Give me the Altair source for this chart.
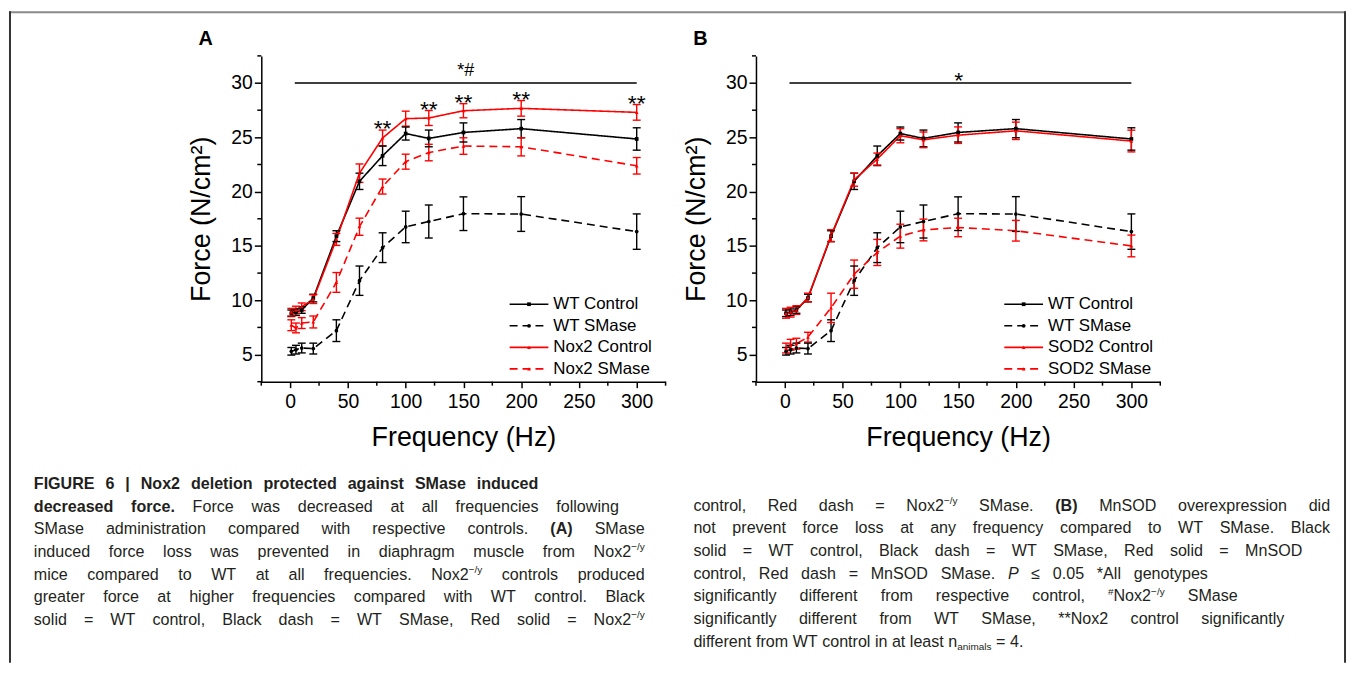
import altair as alt
import pandas as pd

# ---------------- data ----------------
FREQ = [1, 5, 10, 20, 40, 60, 80, 100, 120, 150, 200, 300]

WT_CTRL = [8.8, 8.9, 9.1, 10.2, 15.9, 20.95, 23.3, 25.35, 24.9, 25.45, 25.8, 24.85]
WT_CTRL_ERR = [0.3, 0.3, 0.3, 0.35, 0.5, 0.75, 0.9, 0.6, 0.77, 0.88, 0.84, 1.03]
WT_SMASE = [5.3, 5.45, 5.6, 5.55, 7.2, 11.8, 14.84, 16.75, 17.25, 17.97, 17.94, 16.32]
WT_SMASE_ERR = [0.35, 0.4, 0.45, 0.5, 1.0, 1.35, 1.37, 1.45, 1.52, 1.55, 1.6, 1.63]
NOX2_CTRL = [8.9, 9.1, 9.4, 10.1, 15.6, 21.7, 24.94, 26.72, 26.78, 27.45, 27.67, 27.3]
NOX2_CTRL_ERR = [0.35, 0.35, 0.35, 0.4, 0.55, 0.85, 0.73, 0.69, 0.69, 0.65, 0.72, 0.72]
NOX2_SMASE = [7.7, 7.45, 7.9, 8.0, 11.64, 16.77, 20.47, 22.76, 23.6, 24.2, 24.13, 22.38]
NOX2_SMASE_ERR = [0.5, 0.45, 0.5, 0.55, 0.91, 0.79, 0.69, 0.69, 0.76, 0.76, 0.84, 0.76]
SOD2_CTRL = [8.8, 8.9, 9.1, 10.25, 15.95, 21.1, 23.0, 25.15, 24.77, 25.2, 25.6, 24.66]
SOD2_CTRL_ERR = [0.45, 0.45, 0.4, 0.4, 0.55, 0.6, 0.55, 0.65, 0.72, 0.76, 0.8, 1.0]
SOD2_SMASE = [5.6, 5.9, 6.0, 6.6, 9.3, 12.4, 14.4, 15.9, 16.47, 16.7, 16.4, 15.0]
SOD2_SMASE_ERR = [0.45, 0.5, 0.5, 0.45, 1.35, 1.3, 1.2, 1.1, 1.0, 0.85, 0.95, 1.0]

NAMES_A = ["WT Control", "WT SMase", "Nox2 Control", "Nox2 SMase"]
NAMES_B = ["WT Control", "WT SMase", "SOD2 Control", "SOD2 SMase"]
KEYS = ["k1", "k2", "k3", "k4"]

STAR_FREQ_A = [80, 120, 150, 200, 300]
STAR_Y_A = [26.3, 28.1, 28.7, 29.0, 28.6]
BAR_FROM, BAR_TO, BAR_Y = 4, 300, 30
SIG_A, SIG_FREQ_A = "*#", 152
SIG_B, SIG_FREQ_B = "*", 150.5

X_MAJOR = [0, 50, 100, 150, 200, 250, 300]
X_MINOR = [-25, 25, 75, 125, 175, 225, 275, 325]
Y_MAJOR = [5, 10, 15, 20, 25, 30]
Y_MINOR = [2.5, 7.5, 12.5, 17.5, 22.5, 27.5, 32.5]

LEFT_LINES = [
    ([("b", "FIGURE 6 | Nox2 deletion protected against SMase induced")], 541),
    ([("b", "decreased force."), ("n", " Force was decreased at all frequencies following")], 622),
    ([("n", "SMase administration compared with respective controls. "), ("b", "(A)"), ("n", " SMase")], 648),
    ([("n", "induced force loss was prevented in diaphragm muscle from Nox2"), ("sup", "\u2212/y")], 648),
    ([("n", "mice compared to WT at all frequencies. Nox2"), ("sup", "\u2212/y"), ("n", " controls produced")], 648),
    ([("n", "greater force at higher frequencies compared with WT control. Black")], 648),
    ([("n", "solid = WT control, Black dash = WT SMase, Red solid = Nox2"), ("sup", "\u2212/y")], 648),
]
RIGHT_LINES = [
    ([("n", "control, Red dash = Nox2"), ("sup", "\u2212/y"), ("n", " SMase. "), ("b", "(B)"),
      ("n", " MnSOD overexpression did")], 1338),
    ([("n", "not prevent force loss at any frequency compared to WT SMase. Black")], 1338),
    ([("n", "solid = WT control, Black dash = WT SMase, Red solid = MnSOD")], 1310),
    ([("n", "control, Red dash = MnSOD SMase. "), ("i", "P"), ("n", " \u2264 0.05 *All genotypes")], 1215),
    ([("n", "significantly different from respective control, "), ("sup", "#"), ("n", "Nox2"),
      ("sup", "\u2212/y"), ("n", " SMase")], 1245),
    ([("n", "significantly different from WT SMase, **Nox2 control significantly")], 1292),
    ([("n", "different from WT control in at least n"), ("sub", "animals"), ("n", " = 4.")], None),
]

# ---------------- styles / layout ----------------
FONT = "Liberation Sans, Arial, sans-serif"
CAP_FONT = "Liberation Sans, Arial, sans-serif"
COLORS = ["#000000", "#000000", "#ff0000", "#ff0000"]
DASHES = [[1, 0], [8, 5], [1, 0], [8, 5]]
SHAPES = ["square", "circle", "triangle-up", "triangle-up"]

W, H = 407, 328
A_ORIGIN = (262, 53)
B_ORIGIN = (760, 53)
SPACING = B_ORIGIN[0] - A_ORIGIN[0] - W

CAP_FS = 16.2
CAP_LINE = 22.8
LEFT_X0, LEFT_BASE0 = 33, 489
RIGHT_X0, RIGHT_BASE0 = 697, 511

LEG_X0, LEG_X1, LEG_TX, LEG_Y0, LEG_DY = 250, 289, 294, 250, 21.7

ONE = pd.DataFrame({"d": [0]})

# ---- approximate glyph widths (per 1000 em) for caption justification ----
REG = {}
for chars, w in [("ABEKPSVXY", 667), ("CDHNRUw", 722), ("FTZ", 611), ("GOQ", 778),
                 ("If t.,/:!", 278), ("Jckvsxyz", 500), ("Labdeghnopqu0123456789#", 556),
                 ("Mm", 833), ("W", 944), ("ijl", 222), ("r()-", 333), ("*", 389),
                 ("=\u2212+", 584), ("|", 260), ("\u2264", 549)]:
    for ch in chars:
        REG[ch] = w
BOLD = {}
for chars, w in [("ABCDHNRU", 722), ("EPS", 667), ("FTbdghnopqu", 611), ("GOw", 778),
                 ("Iil .,", 278), ("M", 833), ("W", 944), ("acesvxyzk0123456789#", 556),
                 ("m", 889), ("ft():", 333), ("r", 389), ("|", 280), ("=\u2212", 584)]:
    for ch in chars:
        BOLD[ch] = w


def run_w(style, text):
    table = BOLD if style == "b" else REG
    scale = 0.62 if style in ("sup", "sub") else 1.0
    return sum(table.get(ch, 556) for ch in text) / 1000.0 * CAP_FS * scale


def split_words(runs):
    words = [[]]
    for style, text in runs:
        parts = text.split(" ")
        for k, p in enumerate(parts):
            if k > 0:
                words.append([])
            if p:
                words[-1].append((style, p))
    return [w for w in words if w]


def build_caption():
    rows = []
    for x0, base0, lines in [(LEFT_X0, LEFT_BASE0, LEFT_LINES), (RIGHT_X0, RIGHT_BASE0, RIGHT_LINES)]:
        for i, (runs, target) in enumerate(lines):
            words = split_words(runs)
            widths = [sum(run_w(s, t) for s, t in w) for w in words]
            space = 0.278 * CAP_FS
            if target is not None and len(words) > 1:
                gap = max((target - x0 - sum(widths)) / (len(words) - 1), 0.2 * CAP_FS)
            else:
                gap = space
            x = x0
            y = base0 + i * CAP_LINE
            for w, ww in zip(words, widths):
                cx = x
                for s, t in w:
                    dy = {"sup": -0.4 * CAP_FS, "sub": 0.22 * CAP_FS}.get(s, 0.0)
                    rows.append(dict(x=cx - A_ORIGIN[0], y=y + dy - A_ORIGIN[1], text=t, style=s))
                    cx += run_w(s, t)
                x += ww + gap
    return pd.DataFrame(rows)


CAPTION = build_caption()


def cap_layer(style, size, weight="normal", fstyle="normal"):
    d = CAPTION[CAPTION["style"] == style]
    return alt.Chart(d).mark_text(
        align="left", baseline="alphabetic", font=CAP_FONT, fontSize=size,
        fontWeight=weight, fontStyle=fstyle, color="#231f20"
    ).encode(x=alt.X("x:Q", scale=None), y=alt.Y("y:Q", scale=None), text="text:N")


def panel(names, series, label, sig_text, sig_freq, sig_fs, sig_dy, stars, with_caption):
    rows = []
    for key, name, (vals, errs) in zip(KEYS, names, series):
        for f, v, e in zip(FREQ, vals, errs):
            rows.append(dict(key=key, name=name, freq=f, force=v, lo=v - e, hi=v + e))
    df = pd.DataFrame(rows)

    xscale = alt.Scale(domain=[-25, 325], nice=False, zero=False)
    yscale = alt.Scale(domain=[2.5, 32.5], nice=False, zero=False)
    color = alt.Color("key:N", scale=alt.Scale(domain=KEYS, range=COLORS), legend=None)
    dash = alt.StrokeDash("key:N", scale=alt.Scale(domain=KEYS, range=DASHES), legend=None)
    shape = alt.Shape("key:N", scale=alt.Scale(domain=KEYS, range=SHAPES), legend=None)

    x_axis = alt.Axis(
        values=X_MAJOR, format="d",
        title="Frequency (Hz)", titleFont=FONT, titleFontSize=27, titleFontWeight="normal",
        titleColor="black", titleX=W / 2, titleY=56, titleAlign="center", titleBaseline="middle",
        labelFont=FONT, labelFontSize=19.5, labelColor="black", labelPadding=5,
        labelFlush=False, labelOverlap=False, domainColor="black", domainWidth=1.5,
        tickColor="black", tickWidth=1.5, tickSize=6, grid=False,
    )
    y_axis = alt.Axis(
        values=Y_MAJOR, format="d",
        title="Force (N/cm\u00b2)", titleFont=FONT, titleFontSize=27, titleFontWeight="normal",
        titleColor="black", titleAngle=270, titleX=-60, titleY=H / 2, titleAlign="center",
        titleBaseline="middle", labelFont=FONT, labelFontSize=19.5, labelColor="black",
        labelPadding=2, labelFlush=False, labelOverlap=False, domainColor="black",
        domainWidth=1.5, tickColor="black", tickWidth=1.5, tickSize=7, grid=False,
    )

    base = alt.Chart(df)
    lines = base.mark_line(strokeWidth=1.6).encode(
        x=alt.X("freq:Q", scale=xscale, axis=x_axis),
        y=alt.Y("force:Q", scale=yscale, axis=y_axis),
        color=color, strokeDash=dash, order="freq:Q",
    )
    errs = base.mark_rule(strokeWidth=1.4).encode(
        x="freq:Q", y="lo:Q", y2="hi:Q", color=color)
    cap_lo = base.mark_rule(strokeWidth=1.4, xOffset=-4, x2Offset=4).encode(
        x="freq:Q", x2="freq:Q", y="lo:Q", color=color)
    cap_hi = base.mark_rule(strokeWidth=1.4, xOffset=-4, x2Offset=4).encode(
        x="freq:Q", x2="freq:Q", y="hi:Q", color=color)
    pts = base.mark_point(filled=True, size=14, opacity=1).encode(
        x="freq:Q", y="force:Q", color=color, shape=shape)

    # minor ticks, placed through the axis scales
    minor_x = alt.Chart(pd.DataFrame({"v": X_MINOR})).mark_rule(
        color="black", strokeWidth=1.5).encode(x="v:Q", y=alt.value(H), y2=alt.value(H + 4))
    minor_y = alt.Chart(pd.DataFrame({"v": Y_MINOR})).mark_rule(
        color="black", strokeWidth=1.5).encode(y="v:Q", x=alt.value(0), x2=alt.value(-4))

    bar_df = pd.DataFrame({"f0": [BAR_FROM], "f1": [BAR_TO], "y": [BAR_Y]})
    bar = alt.Chart(bar_df).mark_rule(color="black", strokeWidth=1.5).encode(
        x="f0:Q", x2="f1:Q", y="y:Q")
    sig = alt.Chart(pd.DataFrame({"f": [sig_freq], "y": [BAR_Y]})).mark_text(
        text=sig_text, font=FONT, fontSize=sig_fs, baseline="alphabetic", align="center",
        dy=sig_dy, color="black").encode(x="f:Q", y="y:Q")

    leg = pd.DataFrame({"key": KEYS, "name": names})
    leg["y"] = [LEG_Y0 + LEG_DY * i for i in range(len(KEYS))]
    leg["x0"] = LEG_X0
    leg["x1"] = LEG_X1
    leg["xm"] = (LEG_X0 + LEG_X1) / 2
    leg["xt"] = LEG_TX
    leg_lines = alt.Chart(leg).mark_rule(strokeWidth=1.6).encode(
        x=alt.X("x0:Q", scale=None), x2="x1:Q", y=alt.Y("y:Q", scale=None),
        color=color, strokeDash=dash)
    leg_pts = alt.Chart(leg).mark_point(filled=True, size=14, opacity=1).encode(
        x=alt.X("xm:Q", scale=None), y=alt.Y("y:Q", scale=None), color=color, shape=shape)
    leg_txt = alt.Chart(leg).mark_text(
        align="left", baseline="middle", font=FONT, fontSize=17, color="black").encode(
        x=alt.X("xt:Q", scale=None), y=alt.Y("y:Q", scale=None), text="name:N")

    lab = alt.Chart(ONE).mark_text(
        text=label, font=FONT, fontSize=20, fontWeight="bold", align="center",
        baseline="middle", color="black").encode(x=alt.value(-56), y=alt.value(-17))

    layers = [lines, errs, cap_lo, cap_hi, pts, minor_x, minor_y, bar, sig,
              leg_lines, leg_pts, leg_txt, lab]

    if stars is not None:
        sdf = pd.DataFrame({"f": stars[0], "y": stars[1]})
        layers.append(alt.Chart(sdf).mark_text(
            text="**", font=FONT, fontSize=23, baseline="alphabetic", align="center", dy=13,
            color="black").encode(x="f:Q", y="y:Q"))

    if with_caption:
        fx0 = 8 - A_ORIGIN[0] + 1
        fx1 = 1353 - A_ORIGIN[0]
        fy0 = 8 - A_ORIGIN[1]
        fy1 = 664 - A_ORIGIN[1]
        layers += [
            alt.Chart(ONE).mark_rule(color="#8a8a8a", strokeWidth=2).encode(
                x=alt.value(fx0 - 1), x2=alt.value(fx1 + 1), y=alt.value(fy0 + 1)),
            alt.Chart(ONE).mark_rule(color="#333333", strokeWidth=2).encode(
                x=alt.value(fx0), y=alt.value(fy0), y2=alt.value(fy1)),
            alt.Chart(ONE).mark_rule(color="#333333", strokeWidth=2).encode(
                x=alt.value(fx1), y=alt.value(fy0), y2=alt.value(fy1)),
            cap_layer("n", CAP_FS),
            cap_layer("b", CAP_FS, weight="bold"),
            cap_layer("i", CAP_FS, fstyle="italic"),
            cap_layer("sup", CAP_FS * 0.62),
            cap_layer("sub", CAP_FS * 0.62),
        ]
    return alt.layer(*layers).properties(width=W, height=H)


panel_a = panel(
    NAMES_A,
    [(WT_CTRL, WT_CTRL_ERR), (WT_SMASE, WT_SMASE_ERR), (NOX2_CTRL, NOX2_CTRL_ERR), (NOX2_SMASE, NOX2_SMASE_ERR)],
    "A", SIG_A, SIG_FREQ_A, 18, -7, (STAR_FREQ_A, STAR_Y_A), True)
panel_b = panel(
    NAMES_B,
    [(WT_CTRL, WT_CTRL_ERR), (WT_SMASE, WT_SMASE_ERR), (SOD2_CTRL, SOD2_CTRL_ERR), (SOD2_SMASE, SOD2_SMASE_ERR)],
    "B", SIG_B, SIG_FREQ_B, 23, 5, None, False)

chart = alt.hconcat(panel_a, panel_b, spacing=SPACING, bounds="flush").properties(
    padding=0, background="white"
).configure_view(strokeWidth=0)

chart.save("out.html", embed_options={"renderer": "svg", "actions": False})
